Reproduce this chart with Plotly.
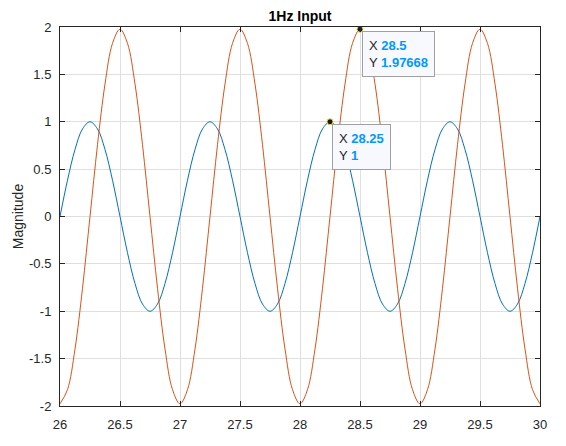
import plotly.graph_objects as go

# Sample times (s)
t = [26.0, 26.0625, 26.125, 26.1875, 26.25, 26.3125, 26.375, 26.4375,
     26.5, 26.5625, 26.625, 26.6875, 26.75, 26.8125, 26.875, 26.9375,
     27.0, 27.0625, 27.125, 27.1875, 27.25, 27.3125, 27.375, 27.4375,
     27.5, 27.5625, 27.625, 27.6875, 27.75, 27.8125, 27.875, 27.9375,
     28.0, 28.0625, 28.125, 28.1875, 28.25, 28.3125, 28.375, 28.4375,
     28.5, 28.5625, 28.625, 28.6875, 28.75, 28.8125, 28.875, 28.9375,
     29.0, 29.0625, 29.125, 29.1875, 29.25, 29.3125, 29.375, 29.4375,
     29.5, 29.5625, 29.625, 29.6875, 29.75, 29.8125, 29.875, 29.9375,
     30.0]

# Input signal (blue)
input_sig = [0, 0.383, 0.707, 0.924, 1, 0.924, 0.707, 0.383,
             0, -0.383, -0.707, -0.924, -1, -0.924, -0.707, -0.383,
             0, 0.383, 0.707, 0.924, 1, 0.924, 0.707, 0.383,
             0, -0.383, -0.707, -0.924, -1, -0.924, -0.707, -0.383,
             0, 0.383, 0.707, 0.924, 1, 0.924, 0.707, 0.383,
             0, -0.383, -0.707, -0.924, -1, -0.924, -0.707, -0.383,
             0, 0.383, 0.707, 0.924, 1, 0.924, 0.707, 0.383,
             0, -0.383, -0.707, -0.924, -1, -0.924, -0.707, -0.383,
             0]

# Output signal (orange)
output_sig = [-1.977, -1.827, -1.398, -0.757, 0, 0.757, 1.398, 1.827,
              1.977, 1.827, 1.398, 0.757, 0, -0.757, -1.398, -1.827,
              -1.977, -1.827, -1.398, -0.757, 0, 0.757, 1.398, 1.827,
              1.977, 1.827, 1.398, 0.757, 0, -0.757, -1.398, -1.827,
              -1.977, -1.827, -1.398, -0.757, 0, 0.757, 1.398, 1.827,
              1.97668, 1.827, 1.398, 0.757, 0, -0.757, -1.398, -1.827,
              -1.977, -1.827, -1.398, -0.757, 0, 0.757, 1.398, 1.827,
              1.977, 1.827, 1.398, 0.757, 0, -0.757, -1.398, -1.827,
              -1.977]

x_ticks = [26, 26.5, 27, 27.5, 28, 28.5, 29, 29.5, 30]
x_tick_labels = ["26", "26.5", "27", "27.5", "28", "28.5", "29", "29.5", "30"]
y_ticks = [-2, -1.5, -1, -0.5, 0, 0.5, 1, 1.5, 2]
y_tick_labels = ["-2", "-1.5", "-1", "-0.5", "0", "0.5", "1", "1.5", "2"]

# Data tips
tip_x = [28.25, 28.5]
tip_y = [1, 1.97668]
tip_xlabel = ["28.25", "28.5"]
tip_ylabel = ["1", "1.97668"]

FONT = "Liberation Sans, Arial, Helvetica"

fig = go.Figure()
fig.add_trace(go.Scatter(x=t, y=input_sig, mode="lines",
                         line=dict(color="#0072BD", width=1, shape="spline"),
                         showlegend=False, cliponaxis=True))
fig.add_trace(go.Scatter(x=t, y=output_sig, mode="lines",
                         line=dict(color="#D95319", width=1, shape="spline"),
                         showlegend=False, cliponaxis=True))
fig.add_trace(go.Scatter(x=tip_x, y=tip_y, mode="markers",
                         marker=dict(color="#1a1a1a", size=6,
                                     line=dict(color="#e8d44d", width=1)),
                         showlegend=False, cliponaxis=False))

val_color = "#0099FF"
for xv, yv, xl, yl in zip(tip_x, tip_y, tip_xlabel, tip_ylabel):
    txt = (f"X <span style='color:{val_color}'><b>{xl}</b></span><br>"
           f"Y <span style='color:{val_color}'><b>{yl}</b></span>")
    fig.add_annotation(x=xv, y=yv, xref="x", yref="y", text=txt,
                       showarrow=False, xanchor="left", yanchor="top",
                       xshift=2, yshift=-2, align="left",
                       font=dict(family=FONT, size=13, color="#262626"),
                       bgcolor="#F8F8FF", bordercolor="#A0A0A0", borderwidth=1,
                       borderpad=6)

axis_common = dict(showline=True, linecolor="#262626", linewidth=1, mirror="ticks",
                   ticks="inside", ticklen=5, tickcolor="#262626",
                   showgrid=True, gridcolor="#DFDFDF", gridwidth=1,
                   zeroline=False,
                   tickfont=dict(family=FONT, size=13, color="#262626"))

fig.update_xaxes(range=[26, 30], tickvals=x_ticks, ticktext=x_tick_labels,
                 ticklabelstandoff=6, **axis_common)
fig.update_yaxes(range=[-2, 2], tickvals=y_ticks, ticktext=y_tick_labels,
                 ticklabelstandoff=5,
                 title=dict(text="Magnitude", standoff=2,
                            font=dict(family=FONT, size=14, color="#262626")),
                 **axis_common)

fig.update_layout(
    width=566, height=446,
    margin=dict(l=60, r=26, t=27, b=40),
    paper_bgcolor="white", plot_bgcolor="white",
    title=dict(text="<b>1Hz Input</b>", x=0.5, xref="paper", y=1, yref="paper",
               yanchor="bottom", pad=dict(b=6),
               font=dict(family=FONT, size=14, color="#000000")),
)

fig.write_html("out.html")
